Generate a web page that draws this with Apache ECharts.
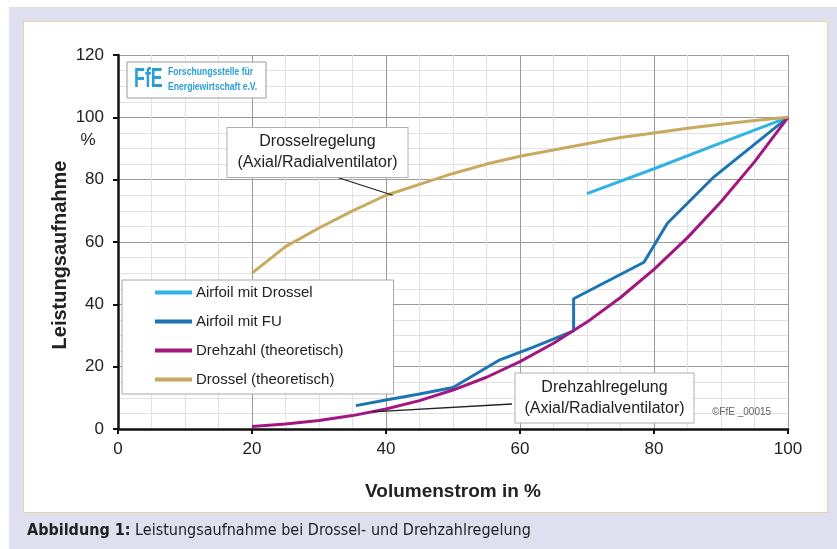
<!DOCTYPE html>
<html><head><meta charset="utf-8">
<script src="https://cdn.jsdelivr.net/npm/echarts@6/dist/echarts.min.js"></script>
<style>
html,body{margin:0;padding:0;width:837px;height:549px;background:#ffffff;overflow:hidden;}
#bg{position:absolute;left:9px;top:7px;right:0;bottom:0;background:#dfe0ef;}
#panel{position:absolute;left:23px;top:21px;width:803px;height:490px;background:#fff;border:1.5px solid #e6d7a3;}
#chart{position:absolute;left:0;top:0;width:837px;height:549px;}
</style></head>
<body>
<div id="bg"></div><div id="panel"></div>
<div id="chart"></div>
<script>
// ---- data ----
const xTickLabels = ['0','20','40','60','80','100'];
const yTickLabels = ['0','20','40','60','80','100','120'];
const seriesNames = ['Airfoil mit Drossel','Airfoil mit FU','Drehzahl (theoretisch)','Drossel (theoretisch)'];

const airDrosselX = [70, 80, 90, 100];
const airDrosselY = [75.5, 83.5, 91.8, 100];

const airFuX = [35.5, 40, 45, 50, 57, 62, 68, 68, 78.5, 82, 89, 100];
const airFuY = [7.5, 9.3, 11.2, 13.3, 22.2, 26.3, 31.5, 41.8, 53.5, 66, 81, 100];

const drehzahlX = [20, 25, 30, 35, 40, 45, 50, 55, 60, 65, 70, 75, 80, 85, 90, 95, 100];
const drehzahlY = [0.8, 1.6, 2.7, 4.3, 6.4, 9.1, 12.5, 16.6, 21.6, 27.5, 34.3, 42.2, 51.2, 61.4, 72.9, 85.7, 100];

const drosselX = [20, 25, 30, 35, 40, 45, 50, 55, 60, 65, 70, 75, 80, 85, 90, 95, 100];
const drosselY = [50, 58.5, 64.5, 70, 75, 78.5, 82, 85, 87.5, 89.5, 91.5, 93.5, 95, 96.5, 97.8, 99, 100];

const colors = ['#2fb3e3', '#1b74b3', '#a1177f', '#c8aa5e'];

function pairs(xs, ys){ return xs.map((x,i)=>[x, ys[i]]); }

const chart = echarts.init(document.getElementById('chart'), null, {renderer:'canvas'});
const baseFont = 'Arial, "Liberation Sans", sans-serif';
const narrow = '"DejaVu Sans Condensed", Arial, sans-serif';

function mkSeries(name, xs, ys, color){
  return {name, type:'line', data:pairs(xs,ys), showSymbol:false, symbol:'none',
    lineStyle:{color, width:3}, itemStyle:{color}, animation:false, z:3};
}

chart.setOption({
  animation:false,
  grid:{left:118, right:49, top:55, bottom:120, containLabel:false},
  xAxis:{type:'value', min:0, max:100, interval:20,
    axisLine:{show:true, onZero:false, lineStyle:{color:'#111', width:2.5}},
    axisTick:{show:true, length:5, lineStyle:{color:'#111', width:2}},
    axisLabel:{margin:12, color:'#222', fontSize:17, fontFamily:baseFont,
      formatter:(v)=>xTickLabels[Math.round(v/20)]},
    splitLine:{show:true, lineStyle:{color:'#9a9a9a', width:1}},
    minorTick:{show:false, splitNumber:4},
    minorSplitLine:{show:true, lineStyle:{color:'#e2e2e2', width:1}}
  },
  yAxis:{type:'value', min:0, max:120, interval:20,
    axisLine:{show:true, onZero:false, lineStyle:{color:'#111', width:2.5}},
    axisTick:{show:true, length:5, lineStyle:{color:'#111', width:2}},
    axisLabel:{margin:14, color:'#222', fontSize:17, fontFamily:baseFont,
      formatter:(v)=>yTickLabels[Math.round(v/20)]},
    splitLine:{show:true, lineStyle:{color:'#9a9a9a', width:1}},
    minorTick:{show:false, splitNumber:4},
    minorSplitLine:{show:true, lineStyle:{color:'#e2e2e2', width:1}}
  },
  legend:{show:true, orient:'vertical', left:122, top:280, data:seriesNames,
    icon:'rect', itemWidth:37, itemHeight:4, itemGap:14,
    padding:[5,50,7,33], backgroundColor:'#fff', borderColor:'#a8a8a8', borderWidth:1,
    textStyle:{fontSize:15, color:'#222', fontFamily:baseFont, padding:[0,0,0,-1]},
    selectedMode:false, z:10},
  series:[
    mkSeries(seriesNames[0], airDrosselX, airDrosselY, colors[0]),
    mkSeries(seriesNames[1], airFuX, airFuY, colors[1]),
    mkSeries(seriesNames[2], drehzahlX, drehzahlY, colors[2]),
    mkSeries(seriesNames[3], drosselX, drosselY, colors[3])
  ]
});

const p1 = chart.convertToPixel({gridIndex:0}, [41, 75]);
const p2 = chart.convertToPixel({gridIndex:0}, [38, 5.5]);

chart.setOption({
  graphic:[
    // callout lines
    {type:'line', z:20, shape:{x1:333, y1:176, x2:p1[0], y2:p1[1]}, style:{stroke:'#222', lineWidth:1.3}},
    {type:'line', z:20, shape:{x1:p2[0], y1:p2[1], x2:512, y2:404}, style:{stroke:'#222', lineWidth:1.3}},
    // annotation boxes
    {type:'text', z:21, x:317.5, y:152.5, style:{text:'Drosselregelung\n(Axial/Radialventilator)',
      font:'16px '+baseFont, fill:'#222', align:'center', verticalAlign:'middle', lineHeight:21,
      backgroundColor:'#fff', borderColor:'#b0b0b0', borderWidth:1, padding:[4,10,3,10]}},
    {type:'text', z:21, x:604.5, y:398, style:{text:'Drehzahlregelung\n(Axial/Radialventilator)',
      font:'16px '+baseFont, fill:'#222', align:'center', verticalAlign:'middle', lineHeight:21,
      backgroundColor:'#fff', borderColor:'#b0b0b0', borderWidth:1, padding:[4,9,3,9]}},
    // copyright
    {type:'text', z:21, x:712, y:412, style:{text:'©FfE _00015', font:'10px '+baseFont, fill:'#666', verticalAlign:'middle'}},
    // logo
    {type:'rect', z:21, shape:{x:127, y:62, width:139, height:36}, style:{fill:'#fff', stroke:'#9a9a9a', lineWidth:1}},
    {type:'text', z:22, x:134, y:80, scaleX:0.66, style:{text:'FfE', font:'bold 27px '+baseFont, fill:'#2a9fd6', verticalAlign:'middle'}},
    {type:'text', z:22, x:168, y:72, scaleX:0.82, style:{text:'Forschungsstelle für', font:'bold 10.5px '+baseFont, fill:'#2a9fd6', verticalAlign:'middle'}},
    {type:'text', z:22, x:168, y:87, scaleX:0.82, style:{text:'Energiewirtschaft e.V.', font:'bold 10.5px '+baseFont, fill:'#2a9fd6', verticalAlign:'middle'}},
    // axis names
    {type:'text', z:21, x:88, y:140, style:{text:'%', font:'17px '+baseFont, fill:'#222', align:'center', verticalAlign:'middle'}},
    {type:'text', z:21, x:60, y:255, rotation:Math.PI/2, style:{text:'Leistungsaufnahme', font:'bold 20px '+baseFont, fill:'#222', align:'center', verticalAlign:'middle'}},
    {type:'text', z:21, x:453, y:492, style:{text:'Volumenstrom in %', font:'bold 19px '+baseFont, fill:'#222', align:'center', verticalAlign:'middle'}},
    // caption
    {type:'text', z:21, x:27, y:531, style:{text:'{b|Abbildung 1:} Leistungsaufnahme bei Drossel- und Drehzahlregelung',
      font:'16px '+narrow, fill:'#222', verticalAlign:'middle',
      rich:{b:{font:'bold 16px '+narrow, fill:'#222'}}}}
  ]
});
</script>
</body></html>
